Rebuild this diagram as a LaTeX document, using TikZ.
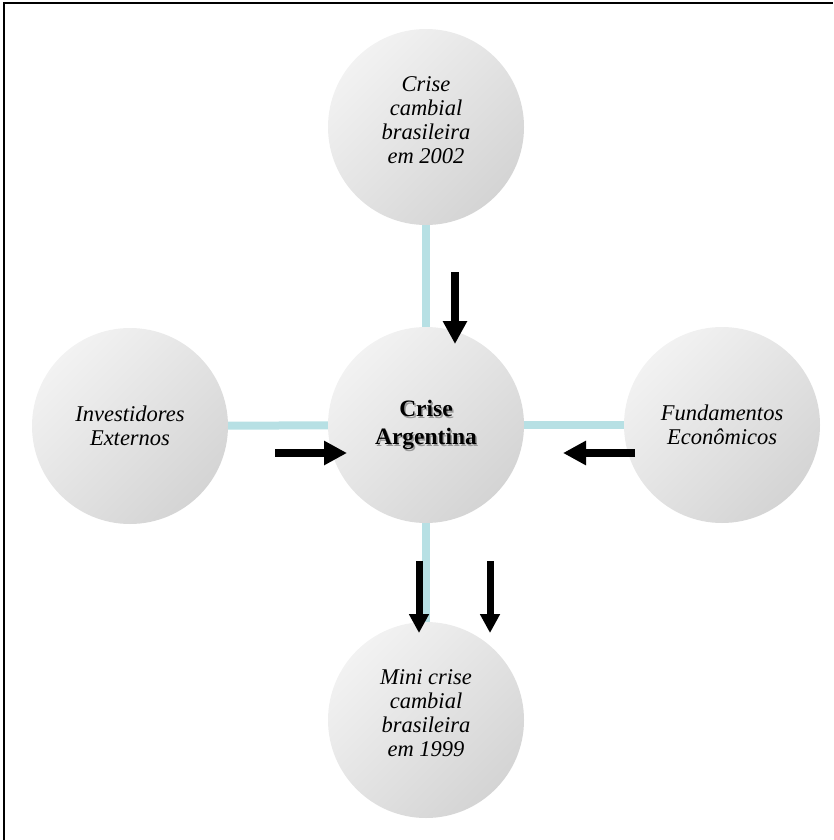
\documentclass[tikz,border=0pt]{standalone}
\usepackage{fontspec}
\setmainfont{Liberation Serif}
\usepackage{xcolor}
\usetikzlibrary{arrows.meta}
\definecolor{ballhi}{RGB}{242,242,242}
\definecolor{balllo}{RGB}{212,212,212}
\definecolor{linkblue}{RGB}{183,224,228}
\tikzset{
  ball/.style={circle,minimum size=196pt,inner sep=0pt,top color=ballhi,bottom color=balllo,shading angle=45},
  outertxt/.style={align=center,font=\fontsize{22.5}{24}\selectfont\itshape},
  midtxt/.style={align=center,font=\fontsize{23.5}{28}\selectfont\bfseries},
  link/.style={draw=linkblue,line width=8pt},
  bigarrow/.style={line width=8pt,-{Triangle[width=#1,length=#1]}},
  bigarrow/.default=23pt
}

\begin{document}
\begin{tikzpicture}[x=1pt,y=-1pt]
\useasboundingbox (0,0) rectangle (833,840);
\draw[line width=2pt](4,840)--(4,3)--(833,3);
\node[ball] (mid) at (426,425) {};
\foreach \n/\x/\y/\s/\txt in {top/426/127/7/{Crise\\cambial\\brasileira\\em 2002},left/130/426/0/{Investidores\\Externos},right/722/425/0/{Fundamentos\\Econ\^omicos},bottom/426/720/7/{Mini crise\\cambial\\brasileira\\em 1999}}
{ \node[ball,label={[outertxt,yshift=\s pt]center:{\txt}}] (\n) at (\x,\y) {}; }
\node[midtxt,text=black!40] at ([xshift=1.5pt,yshift=-1.5pt]mid) {Crise\\Argentina};
\node[midtxt] at (mid) {Crise\\Argentina};
\foreach \n in {top,left,right,bottom}{ \draw[link] (\n) -- (mid); }
% arrows pushing on the crisis
\coordinate (ta) at (455,272); \coordinate (tb) at (455,344);
\coordinate (la) at (275,453); \coordinate (lb) at (347,453);
\coordinate (ra) at (635,453); \coordinate (rb) at (563,453);
\coordinate (ba) at (419,561); \coordinate (bb) at (419,633);
\coordinate (ca) at (490,561); \coordinate (cb) at (490,633);
\foreach \a/\b in {ta/tb,la/lb,ra/rb}{ \draw[bigarrow] (\a) -- (\b); }
\foreach \a/\b in {ba/bb,ca/cb}{ \draw[bigarrow=19pt,line width=7pt] (\a) -- (\b); }
\end{tikzpicture}
\end{document}
